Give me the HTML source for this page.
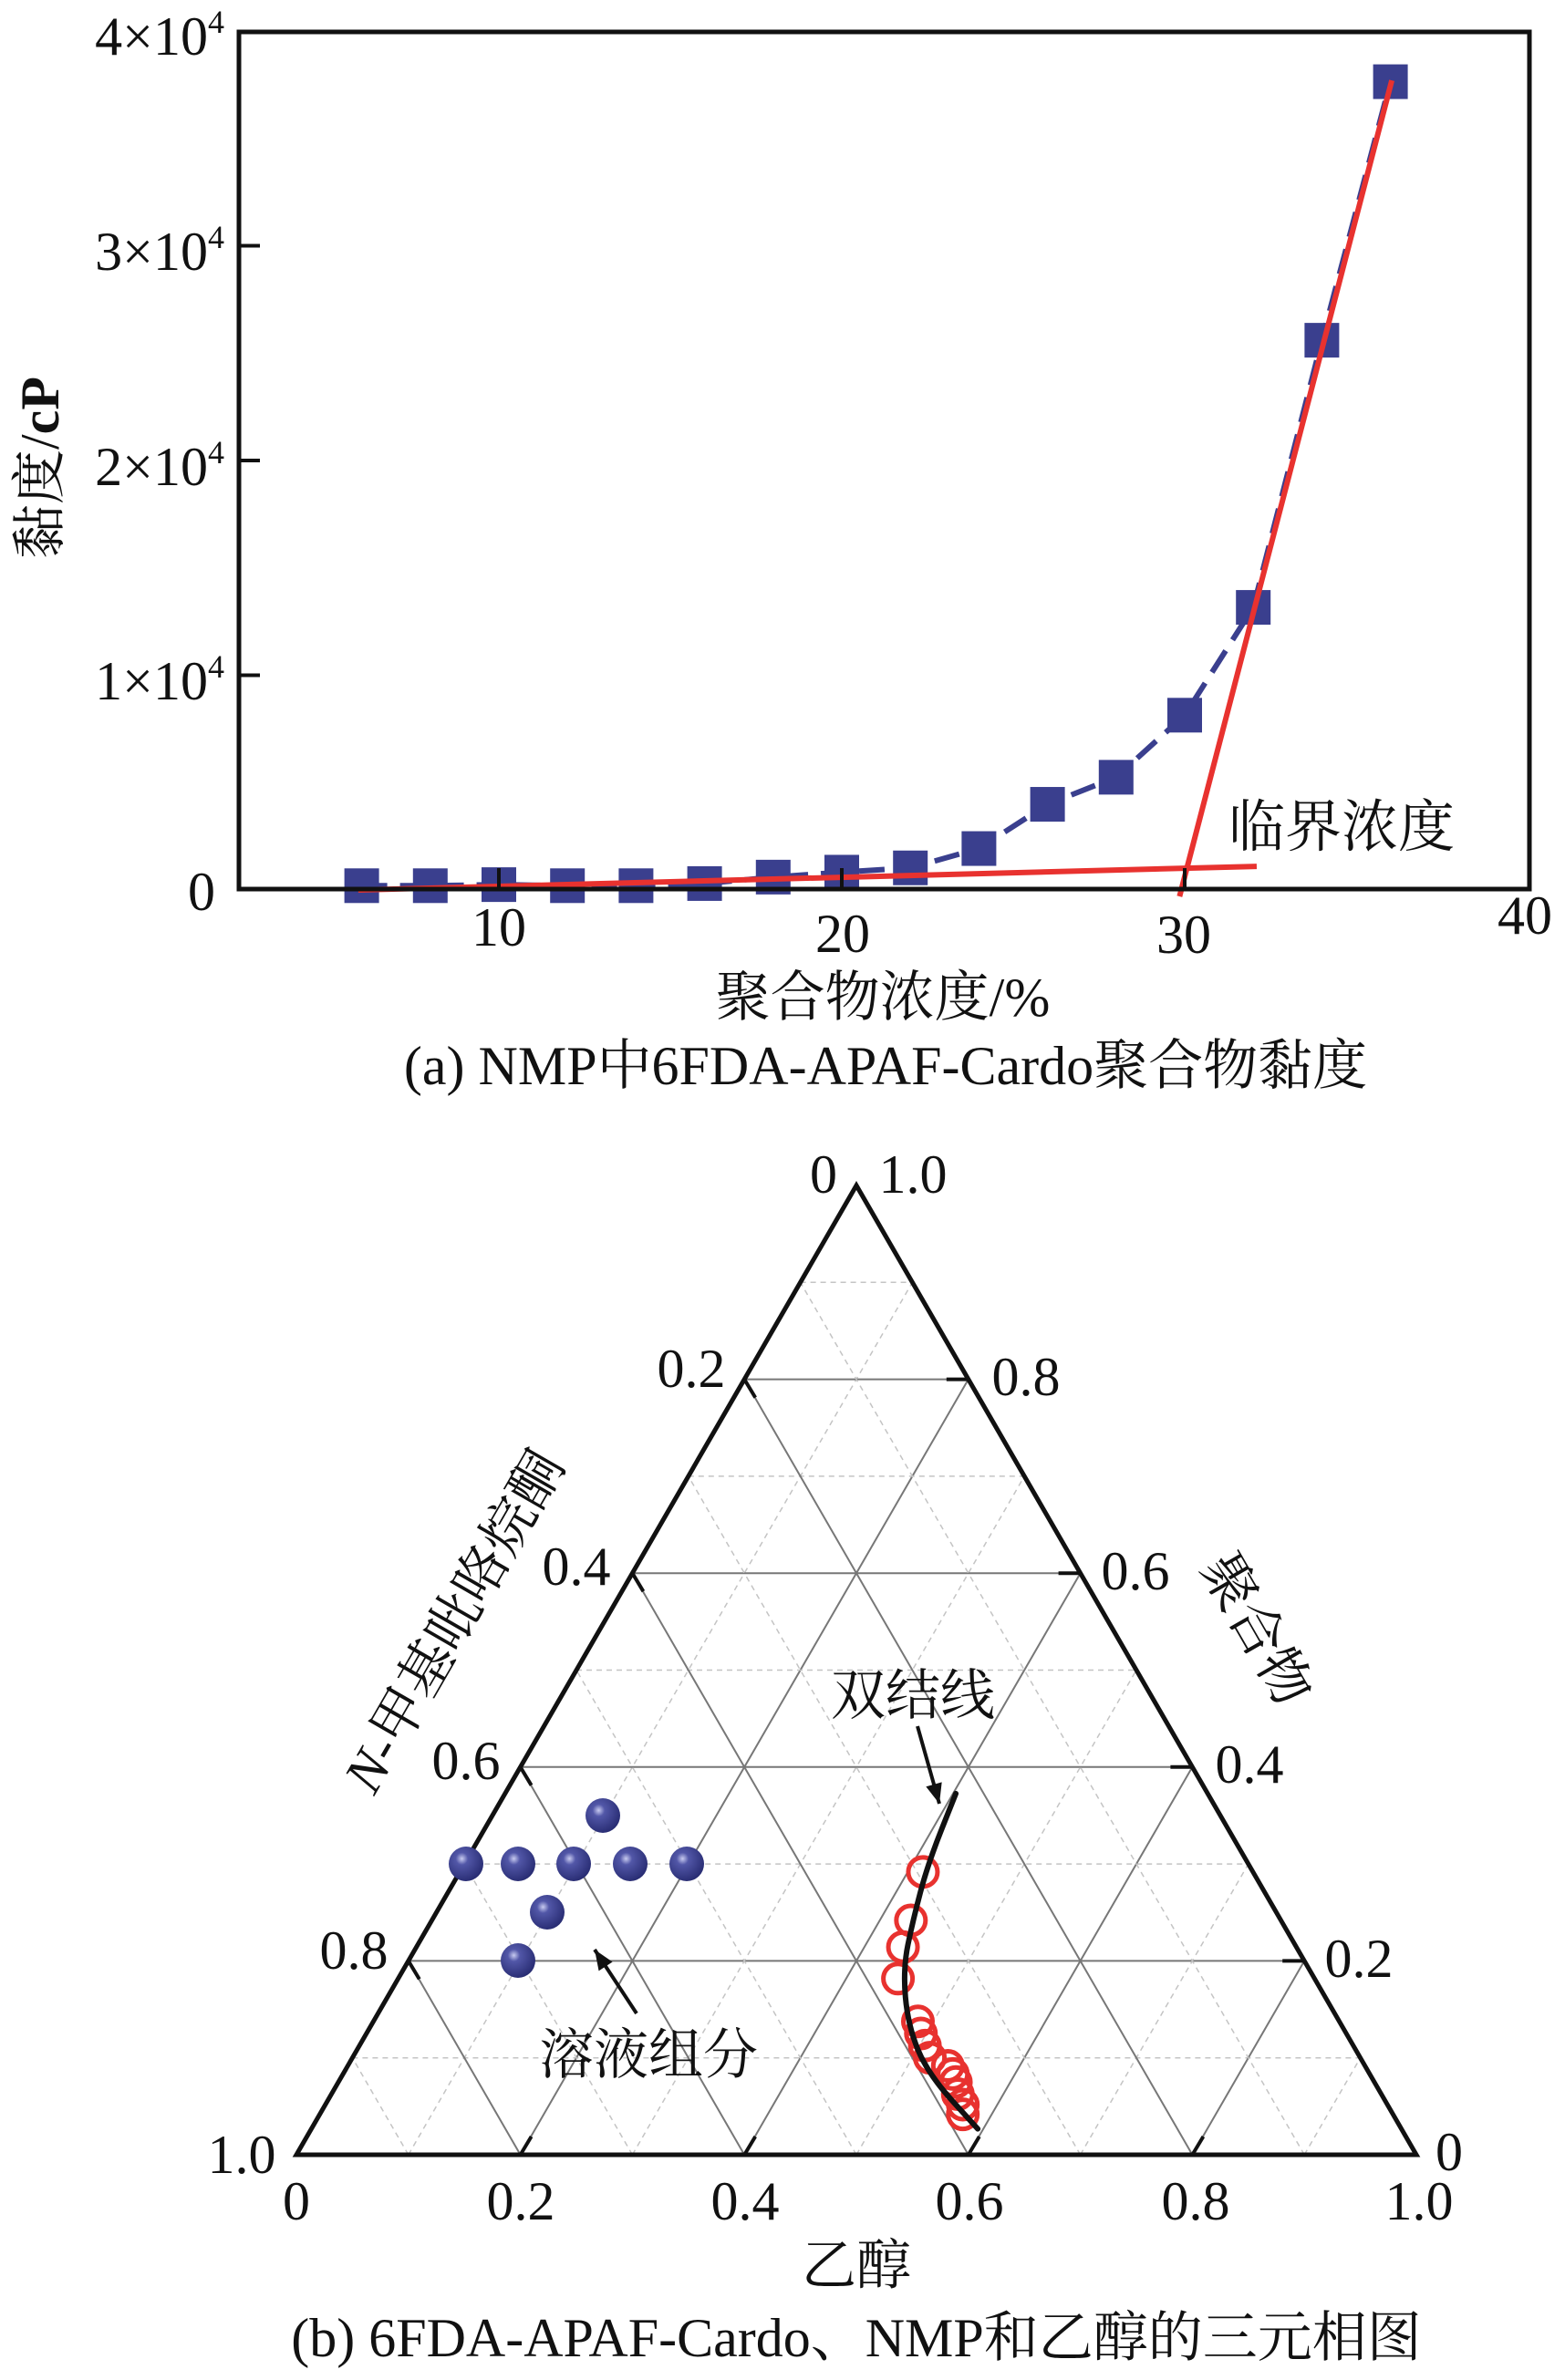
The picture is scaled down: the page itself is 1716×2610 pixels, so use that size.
<!DOCTYPE html>
<html><head><meta charset="utf-8"><style>
html,body{margin:0;padding:0;background:#fff;}
svg{display:block;font-family:"Liberation Serif","Noto Serif CJK SC","Noto Sans CJK SC",serif;}
</style></head><body>
<svg id="s" width="1716" height="2610" viewBox="0 0 1716 2610" xmlns="http://www.w3.org/2000/svg">
<rect width="1716" height="2610" fill="#fff"/>
<g id="a"></g>
<g id="b"></g>
<g font-size="60" fill="#111">
<text x="246" y="60" text-anchor="end">4×10<tspan font-size="36" dy="-24">4</tspan></text>
<text x="246" y="296" text-anchor="end">3×10<tspan font-size="36" dy="-24">4</tspan></text>
<text x="246" y="532" text-anchor="end">2×10<tspan font-size="36" dy="-24">4</tspan></text>
<text x="246" y="767" text-anchor="end">1×10<tspan font-size="36" dy="-24">4</tspan></text>
<text x="236" y="998" text-anchor="end">0</text>
<text x="547" y="1037" text-anchor="middle">10</text>
<text x="924" y="1044" text-anchor="middle">20</text>
<text x="1298" y="1045" text-anchor="middle">30</text>
<text x="1672" y="1024" text-anchor="middle">40</text>
<text transform="translate(64,513) rotate(-90)" text-anchor="middle">黏度/<tspan font-weight="bold">cP</tspan></text>
<text x="968" y="1114" text-anchor="middle">聚合物浓度/%</text>
<text x="971" y="1189" text-anchor="middle">(a) NMP中6FDA-APAF-Cardo聚合物黏度</text>
<text x="1471" y="928" text-anchor="middle" font-size="62">临界浓度</text>
</g>
<g font-size="60" fill="#111">
<text x="903" y="1308" text-anchor="middle">0</text>
<text x="1001" y="1308" text-anchor="middle">1.0</text>
<text x="758" y="1521" text-anchor="middle">0.2</text>
<text x="1125" y="1530" text-anchor="middle">0.8</text>
<text x="632" y="1738" text-anchor="middle">0.4</text>
<text x="1245" y="1743" text-anchor="middle">0.6</text>
<text x="511" y="1951" text-anchor="middle">0.6</text>
<text x="1370" y="1955" text-anchor="middle">0.4</text>
<text x="388" y="2159" text-anchor="middle">0.8</text>
<text x="1490" y="2168" text-anchor="middle">0.2</text>
<text x="265" y="2383" text-anchor="middle">1.0</text>
<text x="1589" y="2380" text-anchor="middle">0</text>
<text x="325" y="2434" text-anchor="middle">0</text>
<text x="571" y="2434" text-anchor="middle">0.2</text>
<text x="817" y="2434" text-anchor="middle">0.4</text>
<text x="1063" y="2434" text-anchor="middle">0.6</text>
<text x="1311" y="2434" text-anchor="middle">0.8</text>
<text x="1556" y="2434" text-anchor="middle">1.0</text>
<text x="939" y="2505" text-anchor="middle">乙醇</text>
<text x="939" y="2584" text-anchor="middle">(b) 6FDA-APAF-Cardo、NMP和乙醇的三元相图</text>
<text transform="translate(498,1778) rotate(-60)" text-anchor="middle" dy="20"><tspan font-style="italic">N</tspan>-甲基吡咯烷酮</text>
<text transform="translate(1378,1787) rotate(60)" text-anchor="middle" dy="20">聚合物</text>
<text x="1001" y="1880" text-anchor="middle">双结线</text>
<text x="711" y="2274" text-anchor="middle">溶液组分</text>
</g>
</svg>
<script>
(function(){
var NS="http://www.w3.org/2000/svg";
function el(p,t,a){var e=document.createElementNS(NS,t);for(var k in a)e.setAttribute(k,a[k]);p.appendChild(e);return e;}
var A=document.getElementById('a');
function X(v){return 171+37.6*v;} function Y(v){return 976-v*0.02355;}
var xs=[6,8,10,12,14,16,18,20,22,24,26,28,30,32,34,36];
var ys=[200,200,250,200,200,300,600,830,1030,1930,3990,5250,8140,13160,25600,37640];
var d=xs.map(function(x,i){return (i?'L':'M')+X(x)+' '+Y(ys[i]);}).join(' ');
el(A,'path',{d:d,fill:'none',stroke:'#3a3f8e','stroke-width':6,'stroke-dasharray':'28 14'});
xs.forEach(function(x,i){el(A,'rect',{x:X(x)-19,y:Y(ys[i])-19,width:38,height:38,fill:'#3a3f8e'});});
el(A,'line',{x1:X(5.9),y1:Y(0),x2:X(32.1),y2:Y(1100),stroke:'#e8322f','stroke-width':6});
el(A,'line',{x1:X(29.85),y1:Y(-300),x2:X(36.04),y2:Y(37700),stroke:'#e8322f','stroke-width':6});
el(A,'rect',{x:262,y:35,width:1415,height:940,fill:'none',stroke:'#111','stroke-width':5});
[10,20,30].forEach(function(v){el(A,'line',{x1:X(v),y1:975,x2:X(v),y2:952,stroke:'#111','stroke-width':4});});
[1e4,2e4,3e4].forEach(function(v){el(A,'line',{x1:262,y1:Y(v),x2:285,y2:Y(v),stroke:'#111','stroke-width':4});});
var B=document.getElementById('b');
var L=325,Bt=2363,W=1228,H=1063;
function P(e,p){return [L+(e+p/2)*W,Bt-p*H];}
function ln(a,b,st){var o={x1:a[0],y1:a[1],x2:b[0],y2:b[1]};for(var k in st)o[k]=st[k];el(B,'line',o);}
for(var i=1;i<10;i++){
 var f=i/10,major=(i%2==0);
 var st=major?{stroke:'#777','stroke-width':2}:{stroke:'#c4c4c4','stroke-width':1.5,'stroke-dasharray':'6 5'};
 ln(P(0,f),P(1-f,f),st);
 ln(P(f,0),P(f,1-f),st);
 ln(P(f,0),P(0,f),st);
}
for(var i=1;i<5;i++){var f=i/5;
 var a=P(1-f,f); ln(a,[a[0]-24,a[1]],{stroke:'#111','stroke-width':4});
 var b=P(f,0); ln(b,[b[0]+12,b[1]-20],{stroke:'#111','stroke-width':4});
 var g=P(0,1-f); ln(g,[g[0]+12,g[1]+20],{stroke:'#111','stroke-width':4});
}
el(B,'polygon',{points:[P(0,0),P(1,0),P(0,1)].map(function(q){return q.join(',');}).join(' '),fill:'none',stroke:'#111','stroke-width':5});
var grad=el(el(B,'defs',{}),'radialGradient',{id:'gb',cx:'0.38',cy:'0.35',r:'0.7'});
el(grad,'stop',{offset:'0','stop-color':'#c8cbf0'});
el(grad,'stop',{offset:'0.25','stop-color':'#5257a8'});
el(grad,'stop',{offset:'1','stop-color':'#262a70'});
[[511,2044],[568,2044],[629,2044],[691,2044],[753,2044],[661,1991],[600,2097],[568,2150]].forEach(function(q){el(B,'circle',{cx:q[0],cy:q[1],r:19,fill:'url(#gb)'});});
[[925,940],[913,1000],[905,1033],[900,1072],[920,1125],[923,1140],[927,1155],[932,1170],[950,1180],[955,1190],[958,1200],[960,1215],[965,1228],[965,1240]].forEach(function(q){
 el(B,'circle',{cx:q[0]*1.094,cy:1220+q[1]*0.886,r:16,fill:'none',stroke:'#e8322f','stroke-width':5});});
var cp=[[958,843],[930,930],[915,1000],[905,1060],[910,1130],[930,1190],[980,1258]].map(function(q){return [q[0]*1.094,1220+q[1]*0.886];});
var dd='M'+cp[0].join(' ');
for(var i=1;i<cp.length;i++){var p0=cp[i-1],p1=cp[i];var mx=(p0[0]+p1[0])/2,my=(p0[1]+p1[1])/2;dd+=' Q'+p0.join(' ')+' '+mx+' '+my;}
dd+=' L'+cp[cp.length-1].join(' ');
el(B,'path',{d:dd,fill:'none',stroke:'#111','stroke-width':6,'stroke-linecap':'round'});
function arrow(x1,y1,x2,y2){ln([x1,y1],[x2,y2],{stroke:'#111','stroke-width':4});
 var a=Math.atan2(y2-y1,x2-x1),s=22,w=9;
 var p=[[x2,y2],[x2-s*Math.cos(a)+w*Math.sin(a),y2-s*Math.sin(a)-w*Math.cos(a)],[x2-s*Math.cos(a)-w*Math.sin(a),y2-s*Math.sin(a)+w*Math.cos(a)]];
 el(B,'polygon',{points:p.map(function(q){return q.join(',');}).join(' '),fill:'#111'});}
arrow(1006,1893,1030,1978);
arrow(698,2208,652,2138);
})();
</script>
</body></html>
